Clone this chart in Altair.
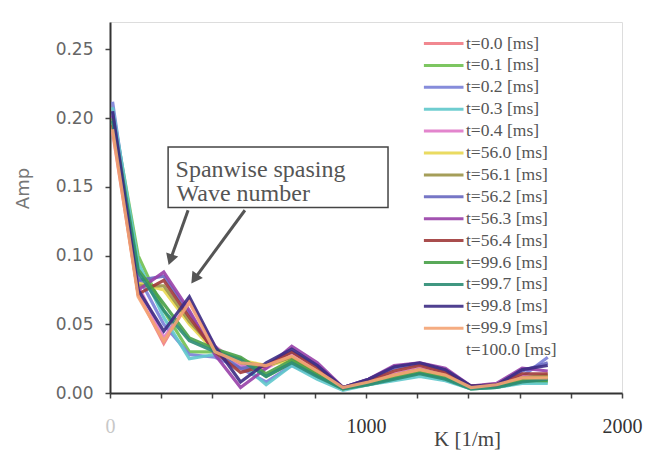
import altair as alt
import pandas as pd

# wavenumber positions (1/m)
K = [10, 110, 210, 310, 410, 510, 610, 710, 810, 910, 1010, 1110, 1210, 1310, 1410, 1510, 1610, 1710]

series_labels = ["t=0.0 [ms]", "t=0.1 [ms]", "t=0.2 [ms]", "t=0.3 [ms]", "t=0.4 [ms]",
                 "t=56.0 [ms]", "t=56.1 [ms]", "t=56.2 [ms]", "t=56.3 [ms]", "t=56.4 [ms]",
                 "t=99.6 [ms]", "t=99.7 [ms]", "t=99.8 [ms]", "t=99.9 [ms]", "t=100.0 [ms]"]
series_colors = ["#f07c84", "#70c050", "#7a80d8", "#60c8cc", "#e078c8",
                 "#e8d850", "#9c9448", "#6868c0", "#9840a8", "#a03a3a",
                 "#48a048", "#2c8c74", "#3c2c84", "#f4a474", "transparent"]

amp_t00 = [0.190, 0.072, 0.036, 0.068, 0.032, 0.022, 0.020, 0.026, 0.016, 0.004, 0.008, 0.012, 0.016, 0.012, 0.004, 0.006, 0.010, 0.010]
amp_t01 = [0.205, 0.100, 0.060, 0.030, 0.030, 0.025, 0.012, 0.022, 0.012, 0.003, 0.006, 0.010, 0.014, 0.010, 0.003, 0.004, 0.008, 0.008]
amp_t02 = [0.212, 0.085, 0.050, 0.028, 0.026, 0.018, 0.008, 0.020, 0.012, 0.003, 0.007, 0.012, 0.015, 0.011, 0.004, 0.005, 0.012, 0.026]
amp_t03 = [0.208, 0.095, 0.055, 0.025, 0.028, 0.022, 0.006, 0.020, 0.010, 0.002, 0.006, 0.009, 0.012, 0.009, 0.003, 0.004, 0.007, 0.007]
amp_t04 = [0.200, 0.078, 0.040, 0.066, 0.034, 0.020, 0.018, 0.028, 0.016, 0.004, 0.009, 0.014, 0.018, 0.014, 0.005, 0.006, 0.012, 0.012]
amp_t560 = [0.195, 0.080, 0.075, 0.050, 0.030, 0.024, 0.020, 0.024, 0.014, 0.003, 0.007, 0.012, 0.016, 0.012, 0.004, 0.005, 0.010, 0.012]
amp_t561 = [0.198, 0.078, 0.078, 0.052, 0.032, 0.022, 0.020, 0.026, 0.015, 0.004, 0.008, 0.013, 0.017, 0.013, 0.004, 0.006, 0.011, 0.013]
amp_t562 = [0.205, 0.082, 0.085, 0.058, 0.030, 0.018, 0.020, 0.030, 0.020, 0.004, 0.010, 0.018, 0.021, 0.016, 0.005, 0.006, 0.016, 0.022]
amp_t563 = [0.202, 0.075, 0.088, 0.060, 0.028, 0.004, 0.018, 0.034, 0.022, 0.004, 0.010, 0.020, 0.022, 0.018, 0.005, 0.007, 0.018, 0.016]
amp_t564 = [0.195, 0.072, 0.082, 0.055, 0.030, 0.015, 0.020, 0.030, 0.018, 0.004, 0.009, 0.016, 0.020, 0.015, 0.005, 0.006, 0.014, 0.014]
amp_t996 = [0.200, 0.090, 0.065, 0.040, 0.032, 0.026, 0.014, 0.024, 0.013, 0.003, 0.007, 0.011, 0.015, 0.011, 0.004, 0.005, 0.009, 0.009]
amp_t997 = [0.198, 0.088, 0.060, 0.038, 0.030, 0.024, 0.012, 0.022, 0.012, 0.003, 0.006, 0.010, 0.014, 0.010, 0.003, 0.004, 0.008, 0.010]
amp_t998 = [0.205, 0.075, 0.045, 0.070, 0.034, 0.008, 0.022, 0.032, 0.020, 0.004, 0.010, 0.019, 0.022, 0.017, 0.005, 0.006, 0.017, 0.020]
amp_t999 = [0.192, 0.070, 0.038, 0.066, 0.030, 0.022, 0.020, 0.027, 0.016, 0.004, 0.008, 0.013, 0.017, 0.013, 0.004, 0.006, 0.011, 0.011]
amp_t1000 = [0.192, 0.070, 0.038, 0.066, 0.030, 0.022, 0.020, 0.027, 0.016, 0.004, 0.008, 0.013, 0.017, 0.013, 0.004, 0.006, 0.011, 0.011]

all_amps = [amp_t00, amp_t01, amp_t02, amp_t03, amp_t04, amp_t560, amp_t561, amp_t562,
            amp_t563, amp_t564, amp_t996, amp_t997, amp_t998, amp_t999, amp_t1000]

# annotation (data coordinates)
note_lines = ["Spanwise spasing", "Wave number"]
note_text_K = [256, 260]
note_text_amp = [0.1625, 0.1445]
box_K = [227, 1086]
box_amp = [0.135, 0.179]
arrow_start_K = [305, 527]
arrow_start_amp = [0.133, 0.133]
arrow_end_K = [236, 330]
arrow_end_amp = [0.097, 0.083]
arrow_angle = [199, 215]

rows = []
for lab, amps in zip(series_labels, all_amps):
    for k, a in zip(K, amps):
        rows.append({"K": k, "amp": a, "t": lab})
df = pd.DataFrame(rows)

xscale = alt.Scale(domain=[0, 2000], nice=False, zero=False)
yscale = alt.Scale(domain=[0, 0.27], nice=False)

xaxis = alt.Axis(
    values=list(range(0, 2001, 100)),
    labelExpr="datum.value % 1000 == 0 ? datum.label : ''",
    format="d", grid=False, domainColor="#333", domainWidth=2,
    tickColor="#444", tickWidth=1.5, tickSize=5,
    labelFont="Liberation Serif", labelFontSize=20,
    labelColor={"condition": {"test": "datum.value == 0", "value": "#c8c8c8"}, "value": "#333"},
    labelPadding=18, labelFlush=False,
    title="K [1/m]", titleFont="Liberation Serif", titleFontSize=21,
    titleFontWeight="normal", titleColor="#444",
    titleX=357, titleY=46, titleAlign="center", titleBaseline="middle",
)
yaxis = alt.Axis(
    values=[round(i * 0.025, 3) for i in range(11)],
    labelExpr="(round(datum.value*1000) % 50 == 0) ? format(datum.value, '.2f') : ''",
    grid=False, domainColor="#333", domainWidth=2,
    tickColor="#444", tickWidth=1.5, tickSize=5,
    labelFont="DejaVu Sans", labelFontSize=17, labelColor="#666",
    labelPadding=12,
    title="Amp", titleFont="DejaVu Sans", titleFontSize=18,
    titleFontWeight="normal", titleColor="#777",
    titleX=-87, titleY=166, titleAlign="center", titleBaseline="middle",
)

lines = alt.Chart(df).mark_line(strokeWidth=3.2, opacity=0.9).encode(
    x=alt.X("K:Q", scale=xscale, axis=xaxis),
    y=alt.Y("amp:Q", scale=yscale, axis=yaxis),
    color=alt.Color("t:N", sort=series_labels,
                    scale=alt.Scale(domain=series_labels, range=series_colors),
                    legend=alt.Legend(
                        title=None, orient="none", legendX=334, legendY=11,
                        symbolType="M-3.4,0H1", symbolSize=324, symbolStrokeWidth=3,
                        labelFont="Liberation Serif", labelFontSize=17.5,
                        labelColor="#555", rowPadding=2.9, labelOffset=1,
                    )),
    order=alt.Order("K:Q"),
)

box_df = pd.DataFrame({"x": [box_K[0]], "x2": [box_K[1]], "y": [box_amp[0]], "y2": [box_amp[1]]})
box = alt.Chart(box_df).mark_rect(fill="white", stroke="#444", strokeWidth=1.5).encode(
    x=alt.X("x:Q", scale=xscale), x2="x2:Q",
    y=alt.Y("y:Q", scale=yscale), y2="y2:Q",
)

text_df = pd.DataFrame({"K": note_text_K, "amp": note_text_amp, "txt": note_lines})
texts = alt.Chart(text_df).mark_text(
    align="left", baseline="middle", font="Liberation Serif", fontSize=24, color="#555"
).encode(
    x=alt.X("K:Q", scale=xscale), y=alt.Y("amp:Q", scale=yscale), text="txt:N"
)

arrow_df = pd.DataFrame({"x": arrow_start_K, "y": arrow_start_amp,
                         "x2": arrow_end_K, "y2": arrow_end_amp, "ang": arrow_angle})
shafts = alt.Chart(arrow_df).mark_rule(color="#555", strokeWidth=3).encode(
    x=alt.X("x:Q", scale=xscale), y=alt.Y("y:Q", scale=yscale), x2="x2:Q", y2="y2:Q"
)
heads = alt.Chart(arrow_df).mark_point(shape="triangle-up", filled=True, color="#555",
                                       size=160, opacity=1).encode(
    x=alt.X("x2:Q", scale=xscale), y=alt.Y("y2:Q", scale=yscale),
    angle=alt.Angle("ang:Q", scale=None),
)

chart = alt.layer(lines, box, texts, shafts, heads).properties(
    width=512, height=371,
    autosize=alt.AutoSizeParams(type="none"),
    padding={"left": 110, "top": 22, "right": 28, "bottom": 66},
).configure_view(stroke=None).configure(background="white")

chart.save("out.html", embed_options={"renderer": "svg", "actions": False})
